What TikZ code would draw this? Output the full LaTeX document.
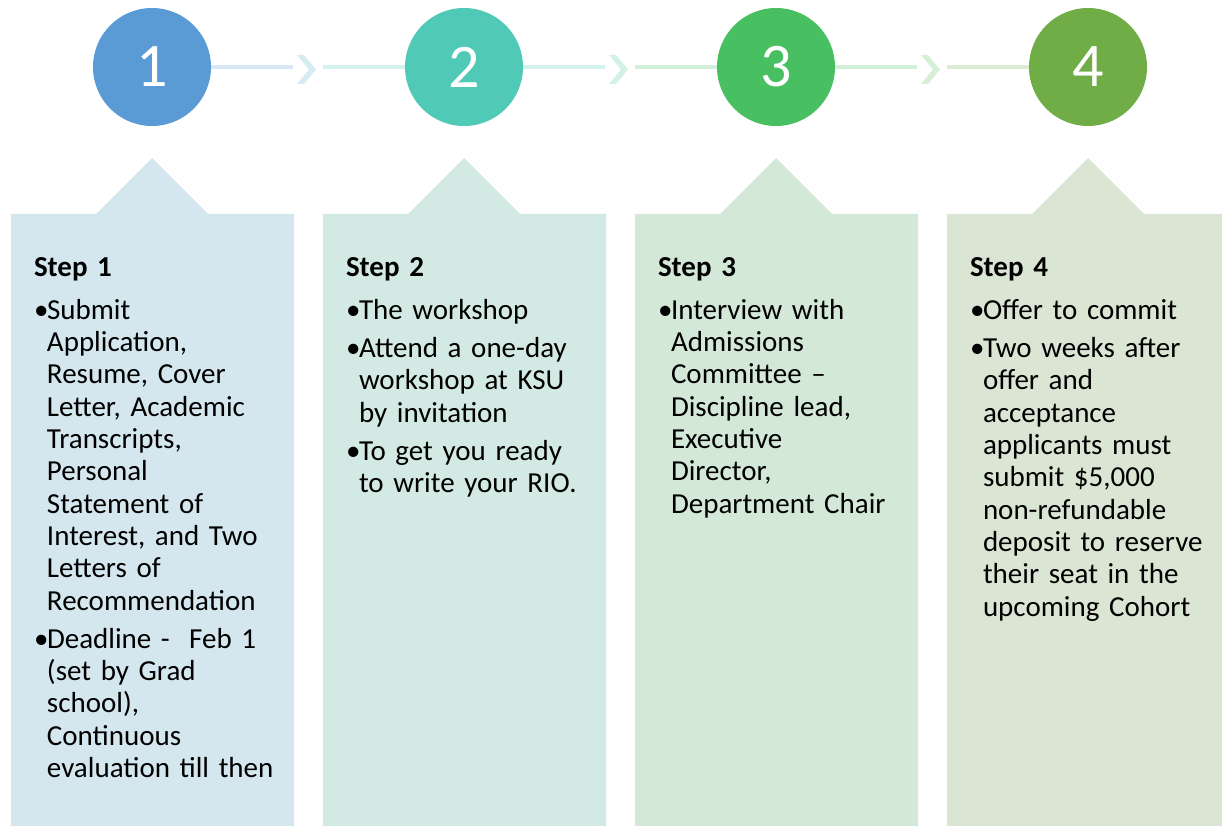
\documentclass[tikz,border=0pt]{standalone}
\usepackage{fontspec}
\setmainfont{Carlito}
\usetikzlibrary{positioning,calc}

\definecolor{stepA}{RGB}{91,155,213}
\definecolor{stepB}{RGB}{80,201,182}
\definecolor{stepC}{RGB}{72,192,98}
\definecolor{stepD}{RGB}{112,173,71}
\definecolor{boxA}{RGB}{213,231,238}
\definecolor{boxB}{RGB}{211,234,228}
\definecolor{boxC}{RGB}{212,232,215}
\definecolor{boxD}{RGB}{219,229,211}
\colorlet{chevA}{stepA!65!stepB!24!white}
\colorlet{chevB}{stepB!60!stepC!24!white}
\colorlet{chevC}{stepC!60!stepD!24!white}

\newcommand{\stepitem}{\par\vspace{6pt}\hangindent=13pt\hangafter=1\noindent\makebox[13pt][l]{\textbullet}}

\begin{document}
\begin{tikzpicture}[x=1pt,y=-1pt,outer sep=0pt,
  numcirc/.style={
    circle,
    minimum size=118pt,
    inner sep=0pt,
    text=white,
    font=\fontsize{62}{62}\selectfont,
    },
  steptext/.style={
    anchor=north west,
    inner sep=0pt,
    text width=270pt,
    font=\fontsize{29}{32.3}\selectfont,
%    align=left,
    },
  link/.style={line width=3.6pt},
  ]

  \useasboundingbox (0,0) rectangle (1222,826);
  \clip (0,0) rectangle (1222,826);

  \node[numcirc, fill=stepA] (c1) at (152,67) {1};
  \node[numcirc, fill=stepB, right=194pt of c1] (c2) {2};
  \node[numcirc, fill=stepC, right=194pt of c2] (c3) {3};
  \node[numcirc, fill=stepD, right=194pt of c3] (c4) {4};

  % links with chevrons
  \foreach \i/\j/\ca/\cb/\cv in {1/2/stepA/stepB/chevA, 2/3/stepB/stepC/chevB, 3/4/stepC/stepD/chevC} {
    \coordinate (a\i) at ($(c\i.east)+(82,0)$);
    \coordinate (b\i) at ($(c\i.east)+(112,0)$);
    \draw[link, \ca!25] (c\i.east) -- (a\i);
    \draw[link, \cb!25] (b\i) -- (c\j.west);
    \fill[\cv] ($(a\i)+(4,-12)$) -- ++(7,0) -- ++(12,14.5) -- ++(-12,14.5) -- ++(-7,0) -- ++(12,-14.5) -- cycle;
  }

  % boxes with pointers
  \foreach \i/\col in {1/boxA, 2/boxB, 3/boxC, 4/boxD}
    \fill[\col] ($(c\i.south)+(-141,88)$) -- ++(85,0) -- ++(56,-56) -- ++(56,56) -- ++(86,0) -- ++(0,612) -- ++(-283,0) -- cycle;

  \node[steptext] (t1) at (34,253.4) {\strut\textbf{Step 1}\par\vspace{5pt}
    \stepitem Submit\newline Application,\newline Resume, Cover\newline Letter, Academic\newline Transcripts,\newline Personal\newline Statement of\newline Interest, and Two\newline Letters of\newline Recommendation
    \stepitem Deadline -~ Feb 1\newline (set by Grad\newline school),\newline Continuous\newline evaluation till then\par};

  \node[steptext] (t2) at (346,253.4) {\strut\textbf{Step 2}\par\vspace{5pt}
    \stepitem The workshop
    \stepitem Attend a one-day\newline workshop at KSU\newline by invitation
    \stepitem To get you ready\newline to write your RIO.\par};

  \node[steptext] (t3) at (658,253.4) {\strut\textbf{Step 3}\par\vspace{5pt}
    \stepitem Interview with\newline Admissions\newline Committee --\newline Discipline lead,\newline Executive\newline Director,\newline Department Chair\par};

  \node[steptext] (t4) at (970,253.4) {\strut\textbf{Step 4}\par\vspace{5pt}
    \stepitem Offer to commit
    \stepitem Two weeks after\newline offer and\newline acceptance\newline applicants must\newline submit \$5,000\newline non-refundable\newline deposit to reserve\newline their seat in the\newline upcoming Cohort\par};

\end{tikzpicture}
\end{document}
